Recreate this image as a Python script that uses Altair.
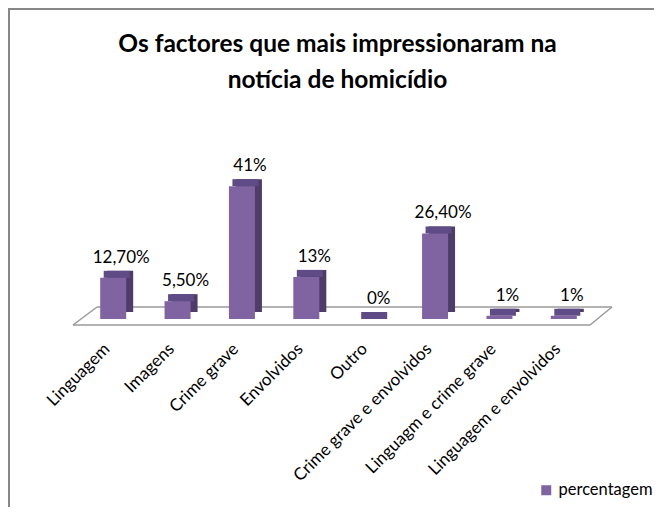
import altair as alt
import pandas as pd

categories = ["Linguagem", "Imagens", "Crime grave", "Envolvidos", "Outro",
              "Crime grave e envolvidos", "Linguagm e crime grave", "Linguagem e envolvidos"]
values = [12.7, 5.5, 41, 13, 0, 26.4, 1, 1]
labels = ["12,70%", "5,50%", "41%", "13%", "0%", "26,40%", "1%", "1%"]
series = ["percentagem"] * len(categories)
title_lines = ["Os factores que mais impressionaram na", "notícia de homicídio"]

df = pd.DataFrame({"cat": categories, "val": values, "lab": labels, "serie": series})

FRONT = "#8064A2"
SIDE = "#4E3D68"
TOP = "#5F4B85"
FONT = "Lato"
W, H = 515, 162
DEPTH = 7
BAR = 26

x_enc = alt.X("cat:N", sort=categories, title=None,
              scale=alt.Scale(paddingInner=0, paddingOuter=0),
              axis=alt.Axis(labelAngle=-45, labelAlign="right", labelBaseline="middle",
                            labelFontSize=17, labelFont=FONT, labelColor="#000000",
                            labelLimit=0, domain=False, ticks=False, grid=False,
                            labelPadding=27, labelOffset=-6))
y_scale = alt.Scale(domain=[0, 50])

base = alt.Chart(df)

one = alt.Chart(pd.DataFrame({"k": [0]}))

def seg(x1, y1, x2, y2, color="#9A9A9A", w=1.5):
    return one.mark_rule(color=color, strokeWidth=w).encode(
        x=alt.value(x1), x2=alt.value(x2), y=alt.value(y1), y2=alt.value(y2))

floor = (seg(-8, 168, 509, 168) + seg(16, 150, 531, 150) +
         seg(-8, 168, 16, 150) + seg(509, 168, 531, 150))

frame = seg(-72, -148, 590, -148, "#878787", 2) + seg(-72, -149, -72, 360, "#878787", 2)

title = one.mark_text(text=title_lines, font=FONT, fontSize=24.5, fontWeight="bold",
                      color="#000000", align="center", baseline="alphabetic",
                      lineHeight=36.6).encode(x=alt.value(256.5), y=alt.value(-105.3))

side = base.mark_bar(size=BAR, color=SIDE, xOffset=DEPTH, yOffset=-DEPTH, y2Offset=-DEPTH).encode(
    x=x_enc, y=alt.Y("val:Q", scale=y_scale, axis=None))
top = base.mark_bar(size=BAR, color=TOP, xOffset=DEPTH / 2, yOffset=-DEPTH, y2Offset=0).encode(
    x=x_enc, y=alt.Y("val:Q", scale=y_scale, axis=None), y2="val:Q")
front = base.mark_bar(size=BAR).encode(
    x=x_enc, y=alt.Y("val:Q", scale=y_scale, axis=None),
    color=alt.Color("serie:N", scale=alt.Scale(range=[FRONT]),
                    legend=alt.Legend(title=None, orient="none", legendX=457, legendY=325,
                                      padding=0, labelOffset=4,
                                      symbolType="square", symbolSize=100, symbolStrokeWidth=0,
                                      labelFontSize=16.5, labelFont=FONT, labelColor="#000000")))
text = base.mark_text(dx=8, dy=-15, baseline="alphabetic", fontSize=17, font=FONT, color="#000000").encode(
    x=x_enc, y=alt.Y("val:Q", scale=y_scale, axis=None), text="lab:N")

chart = alt.layer(frame, floor, title, side, top, front, text).properties(
    width=W, height=H,
    autosize=alt.AutoSizeParams(type="none"),
    padding={"left": 73, "top": 149, "right": 58, "bottom": 188},
    background="white",
).configure_view(stroke="transparent", strokeWidth=0)

chart.save("out.html", embed_options={"renderer": "svg", "actions": False})
